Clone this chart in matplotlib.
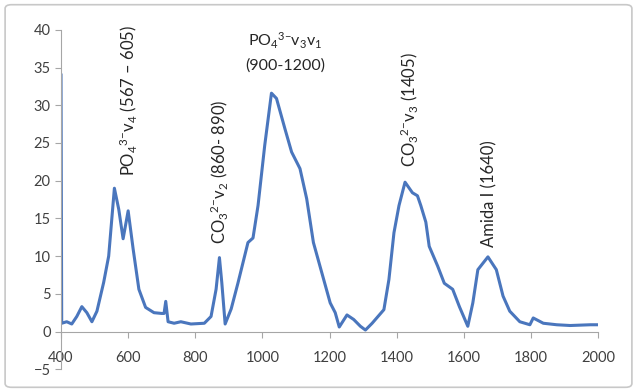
import matplotlib
matplotlib.use('Agg')
import matplotlib.pyplot as plt
from matplotlib.patches import FancyBboxPatch

# Espectro FTIR
numero_onda = [400, 402, 417, 432, 447, 462, 477, 492, 507, 527, 542, 552, 559, 572,
               585, 600, 615, 632, 652, 677, 700, 707, 712, 719, 737, 757, 787, 827,
               847, 862, 872, 879, 889, 907, 927, 957, 972, 987, 1007, 1027, 1042,
               1067, 1087, 1112, 1132, 1152, 1177, 1202, 1217, 1229, 1252, 1272, 1292,
               1307, 1327, 1362, 1377, 1392, 1407, 1425, 1447, 1462, 1472, 1487, 1497,
               1522, 1542, 1567, 1587, 1612, 1627, 1642, 1672, 1697, 1717, 1737, 1767,
               1797, 1807, 1837, 1877, 1917, 1977, 2000]
absorbancia = [34, 1.1, 1.3, 1.0, 2.0, 3.3, 2.5, 1.3, 2.7, 6.5, 10, 15.3, 19, 16.2,
               12.3, 16, 10.9, 5.6, 3.2, 2.5, 2.4, 2.4, 4.0, 1.3, 1.1, 1.3, 1.0, 1.1,
               2.0, 5.6, 9.8, 6.5, 1.0, 3.0, 6.4, 11.8, 12.4, 16.7, 24.7, 31.6, 30.9,
               26.9, 23.8, 21.6, 17.6, 11.8, 7.8, 3.8, 2.5, 0.6, 2.2, 1.6, 0.7,
               0.2, 1.1, 2.9, 6.9, 13.1, 16.7, 19.8, 18.4, 18.0, 16.7, 14.5, 11.3,
               8.7, 6.4, 5.6, 3.3, 0.7, 3.8, 8.2, 9.9, 8.2, 4.7, 2.7, 1.3,
               0.9, 1.8, 1.1, 0.9, 0.8, 0.9, 0.9]

# Etiquetas de las bandas (texto vertical)
bandas_x = [600, 872, 1436, 1675]
bandas_y = [20.6, 11.6, 21.8, 11.2]
bandas_txt = ['PO$_4$$^{3{-}}$v$_4$ (567 – 605)',
              'CO$_3$$^{2{-}}$v$_2$ (860- 890)',
              'CO$_3$$^{2{-}}$v$_3$ (1405)',
              'Amida I (1640)']

plt.rcParams['font.family'] = ['Lato', 'DejaVu Sans']
plt.rcParams['mathtext.fontset'] = 'custom'
plt.rcParams['mathtext.rm'] = 'Lato'
plt.rcParams['mathtext.it'] = 'Lato'
plt.rcParams['mathtext.default'] = 'rm'

fig = plt.figure(figsize=(6.37, 3.92), dpi=100)
ax = fig.add_axes([0.0958, 0.058, 0.843, 0.866])

# borde del área del gráfico
fig.patches.append(FancyBboxPatch((0.008, 0.012), 0.984, 0.976,
                                  boxstyle='round,pad=0,rounding_size=0.01',
                                  transform=fig.transFigure, fill=False,
                                  edgecolor='#c8c8c8', linewidth=1.2))

ax.plot(numero_onda, absorbancia, color='#4a76bd', linewidth=2.2,
        solid_joinstyle='round')

ax.set_xlim(400, 2000)
ax.set_ylim(-5, 40)
ax.set_xticks(range(400, 2001, 200))
ax.set_yticks(range(-5, 41, 5))

ax.spines['top'].set_visible(False)
ax.spines['right'].set_visible(False)
ax.spines['bottom'].set_position(('data', 0))
ax.spines['bottom'].set_color('#a6a6a6')
ax.spines['left'].set_color('#a6a6a6')
ax.tick_params(axis='both', colors='#a6a6a6', labelcolor='#404040',
               labelsize=10.5, length=4, width=0.8)
ax.tick_params(axis='x', direction='out', pad=10)

for x, y, t in zip(bandas_x, bandas_y, bandas_txt):
    ax.text(x, y, t, rotation=90, ha='center', va='bottom', fontsize=12,
            color='#262626')

ax.text(1069, 38.6, 'PO$_4$$^{3{-}}$v$_3$v$_1$', ha='center', va='center',
        fontsize=11.5, color='#262626')
ax.text(1069, 35.2, '(900-1200)', ha='center', va='center',
        fontsize=11.5, color='#262626')

fig.savefig('out.png', dpi=100)
